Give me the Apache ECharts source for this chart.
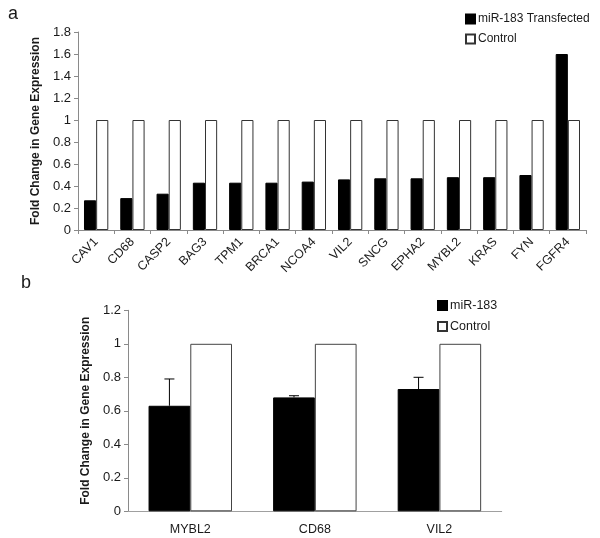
<!DOCTYPE html>
<html><head><meta charset="utf-8">
<script src="https://cdn.jsdelivr.net/npm/echarts@6/dist/echarts.min.js"></script>
<style>html,body{margin:0;padding:0;background:#fff}#c{width:600px;height:538px}</style>
</head><body><div id="c"></div>
<script>
// Panel a data
const genesA = ['CAV1','CD68','CASP2','BAG3','TPM1','BRCA1','NCOA4','VIL2','SNCG','EPHA2','MYBL2','KRAS','FYN','FGFR4'];
const transfectedA = [0.27,0.29,0.33,0.43,0.43,0.43,0.44,0.46,0.47,0.47,0.48,0.48,0.50,1.60];
const controlA = [1,1,1,1,1,1,1,1,1,1,1,1,1,1];
const yTicksA = {min:0, max:1.8, interval:0.2};
// Panel b data
const genesB = ['MYBL2','CD68','VIL2'];
const mirB = [0.63,0.68,0.73];
const mirErrTopB = [0.79,0.69,0.80];
const controlB = [1,1,1];
const yTicksB = {min:0, max:1.2, interval:0.2};

const FONT = 'Arial, "Liberation Sans", sans-serif';
const axisGrey = '#8a8a8a';
const txt = '#1a1a1a';

const chart = echarts.init(document.getElementById('c'), null, {renderer:'canvas'});
const catGap = '33%';

const errData = genesB.map((g,i)=>[i, mirB[i], mirErrTopB[i]]);

chart.setOption({
  animation:false,
  textStyle:{fontFamily:FONT},
  grid:[
    {left:78, top:32, width:508, height:198},
    {left:128, top:310.3, width:373.7, height:201}
  ],
  xAxis:[
    {type:'category', gridIndex:0, data:genesA,
     axisLine:{lineStyle:{color:axisGrey}},
     axisTick:{show:true, length:4, lineStyle:{color:axisGrey}},
     axisLabel:{rotate:45, fontSize:12.5, color:txt, fontFamily:FONT, margin:10}},
    {type:'category', gridIndex:1, data:genesB,
     axisLine:{lineStyle:{color:'#a0a0a0', width:1}},
     axisTick:{show:false},
     axisLabel:{fontSize:12.5, color:txt, fontFamily:FONT, margin:12}}
  ],
  yAxis:[
    {type:'value', gridIndex:0, min:yTicksA.min, max:yTicksA.max, interval:yTicksA.interval,
     name:'Fold Change in Gene Expression', nameLocation:'middle', nameGap:35,
     nameTextStyle:{fontSize:12, fontWeight:'bold', color:txt, fontFamily:FONT},
     axisLine:{show:true, lineStyle:{color:axisGrey}},
     axisTick:{show:true, length:4, lineStyle:{color:axisGrey}},
     splitLine:{show:false},
     axisLabel:{fontSize:13, color:txt, fontFamily:FONT, margin:7}},
    {type:'value', gridIndex:1, min:yTicksB.min, max:yTicksB.max, interval:yTicksB.interval,
     name:'Fold Change in Gene Expression', nameLocation:'middle', nameGap:34,
     nameTextStyle:{fontSize:12, fontWeight:'bold', color:txt, fontFamily:FONT},
     axisLine:{show:true, lineStyle:{color:axisGrey}},
     axisTick:{show:true, length:4, lineStyle:{color:axisGrey}},
     splitLine:{show:false},
     axisLabel:{fontSize:13, color:txt, fontFamily:FONT, margin:7}}
  ],
  legend:[
    {left:460, top:8, orient:'vertical', itemGap:8, itemWidth:9, itemHeight:9,
     icon:'rect', data:['miR-183 Transfected','Control'],
     textStyle:{fontSize:12, color:txt, fontFamily:FONT, padding:[0,0,0,-2]}, selectedMode:false},
    {left:432, top:294, orient:'vertical', itemGap:8, itemWidth:9, itemHeight:9,
     icon:'rect', data:['miR-183','Control'],
     textStyle:{fontSize:12.5, color:txt, fontFamily:FONT, padding:[0,0,0,-2]}, selectedMode:false}
  ],
  graphic:[
    {type:'text', left:8, top:5, style:{text:'a', font:'18px '+FONT, fill:txt}},
    {type:'text', left:21, top:274, style:{text:'b', font:'18px '+FONT, fill:txt}}
  ],
  series:[
    {name:'miR-183 Transfected', type:'bar', xAxisIndex:0, yAxisIndex:0, data:transfectedA,
     barGap:'0%', barCategoryGap:catGap,
     itemStyle:{color:'#000', borderColor:'#000', borderWidth:1}},
    {name:'Control', type:'bar', xAxisIndex:0, yAxisIndex:0, data:controlA,
     itemStyle:{color:'#fff', borderColor:'#333', borderWidth:1}},
    {name:'miR-183', type:'bar', xAxisIndex:1, yAxisIndex:1, data:mirB,
     barGap:'0%', barCategoryGap:catGap,
     itemStyle:{color:'#000', borderColor:'#000', borderWidth:1}},
    {name:'Control', type:'bar', xAxisIndex:1, yAxisIndex:1, data:controlB,
     itemStyle:{color:'#fff', borderColor:'#444', borderWidth:1}},
    {type:'custom', xAxisIndex:1, yAxisIndex:1, data:errData, z:5,
     renderItem:function(params, api){
       const i = api.value(0);
       const base = api.coord([i, api.value(1)]);
       const top = api.coord([i, api.value(2)]);
       const band = api.size([1,0])[0];
       const pair = band*0.67;
       const x = base[0] - pair/4;
       const cap = 5;
       return {type:'group', children:[
         {type:'line', shape:{x1:x, y1:base[1], x2:x, y2:top[1]}, style:{stroke:'#000', lineWidth:1}},
         {type:'line', shape:{x1:x-cap, y1:top[1], x2:x+cap, y2:top[1]}, style:{stroke:'#000', lineWidth:1}}
       ]};
     }}
  ]
});
</script></body></html>
